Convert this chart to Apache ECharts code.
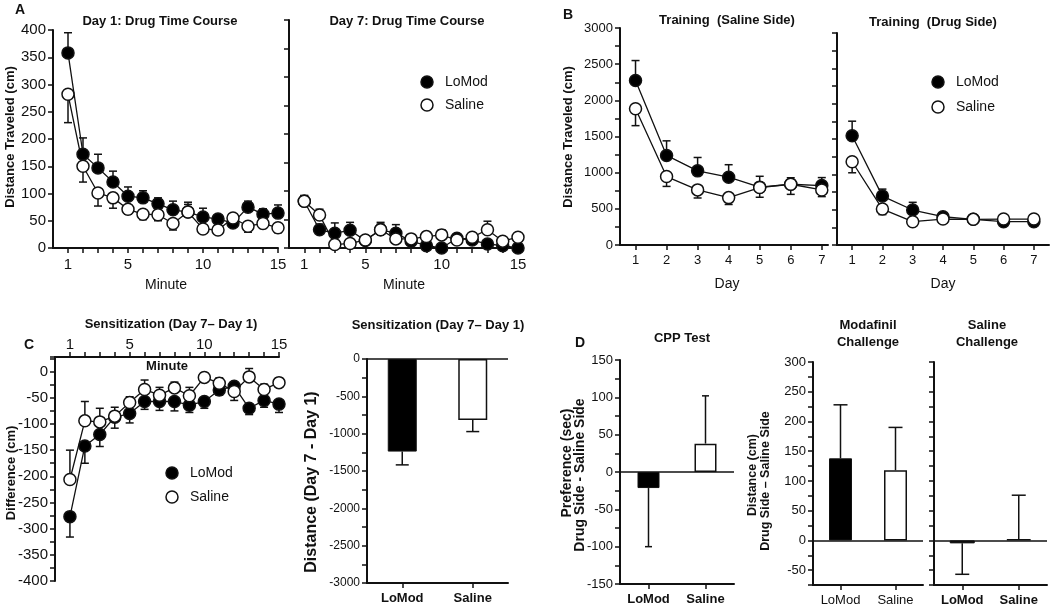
<!DOCTYPE html>
<html>
<head>
<meta charset="utf-8">
<script src="https://cdn.jsdelivr.net/npm/echarts@6/dist/echarts.min.js"></script>
<style>
  html, body { margin: 0; background: #fff; }
  #chart { width: 1050px; height: 608px; }
</style>
</head>
<body>
<div id="chart"></div>
<script>
// ---- data ----
const minutes = [1, 2, 3, 4, 5, 6, 7, 8, 9, 10, 11, 12, 13, 14, 15];
const minuteLabels = [1, 5, 10, 15];
const days = [1, 2, 3, 4, 5, 6, 7];
const groups = ['LoMod', 'Saline'];

// A: drug time course (distance per minute); *Err = end of the error whisker
const day1LoMod = [358, 172, 147, 121, 95, 92, 81, 70, 66, 57, 53, 46, 75, 62, 64];
const day1LoModErr = [395, 202, 172, 141, 112, 105, 92, 86, 80, 73, 59, 52, 86, 72, 79];
const day1Saline = [282, 150, 101, 92, 71, 62, 61, 45, 66, 35, 33, 55, 40, 45, 37];
const day1SalineErr = [230, 121, 77, 73, 62, 52, 50, 33, 84, 28, 26, 46, 29, 36, 28];

const day7LoMod = [82, 32, 26, 31, 13, 32, 26, 12, 4, 0, 17, 14, 7, 4, 0];
const day7LoModErr = [92, 42, 44, 45, 20, 45, 41, 18, 10, 6, 22, 20, 14, 10, 6];
const day7Saline = [82, 58, 6, 8, 14, 32, 16, 16, 20, 23, 14, 19, 32, 12, 19];
const day7SalineErr = [92, 68, 12, 14, 20, 42, 24, 22, 28, 32, 20, 26, 47, 18, 24];

// B: training days
const salineSideLoMod = [2275, 1238, 1025, 937, 800, 840, 821];
const salineSideLoModErr = [2550, 1440, 1210, 1110, 950, 930, 932];
const salineSideSaline = [1883, 946, 762, 655, 794, 840, 761];
const salineSideSalineErr = [1650, 810, 650, 560, 660, 700, 669];

const drugSideLoMod = [1545, 692, 495, 400, 363, 330, 330];
const drugSideLoModErr = [1752, 791, 604, 430, 390, 360, 360];
const drugSideSaline = [1178, 509, 330, 367, 363, 367, 367];
const drugSideSalineErr = [1022, 430, 290, 330, 330, 330, 330];

// C: sensitization (day 7 - day 1)
const sensLoMod = [-277, -142, -120, -87, -80, -57, -57, -57, -64, -57, -35, -28, -70, -55, -62];
const sensLoModErr = [-316, -175, -143, -108, -98, -72, -74, -75, -78, -70, -45, -40, -82, -68, -78];
const sensSaline = [-206, -94, -96, -85, -59, -34, -45, -31, -46, -11, -22, -38, -10, -34, -21];
const sensSalineErr = [-150, -57, -70, -68, -48, -16, -30, -20, -30, -2, -12, -55, 6, -24, -12];

const sensTotal = [-1240, -816];
const sensTotalErr = [-1418, -972];

// D: CPP test and challenges
const cppPref = [-21.5, 38];
const cppPrefErr = [-100, 102];
const modafinilDist = [138, 118];
const modafinilDistErr = [228, 190];
const salineChDist = [-5, 2];
const salineChDistErr = [-57, 76];

// ---- helpers ----
const font = "'Liberation Sans', Arial, Helvetica, sans-serif";
const ink = '#111';
const axisLine = { color: ink, width: 2 };
const tickLine = { color: ink, width: 1.5 };

function xValAxis(grid, min, max, ticks, labels, size, pos) {
  return {
    type: 'value', gridIndex: grid, min: min, max: max, position: pos || 'bottom',
    axisLine: { show: true, onZero: false, lineStyle: axisLine },
    axisTick: { show: true, customValues: ticks, length: 5, lineStyle: tickLine },
    axisLabel: { customValues: labels, color: ink, fontSize: size, fontFamily: font, margin: pos === 'top' ? 5 : 9 },
    splitLine: { show: false }
  };
}

function yValAxis(grid, min, max, interval, step, size) {
  return {
    type: 'value', gridIndex: grid, min: min, max: max, interval: interval,
    axisLine: { show: true, onZero: false, lineStyle: axisLine },
    axisTick: { show: true, length: 5, lineStyle: tickLine },
    axisLabel: {
      show: !!step, color: ink, fontSize: size, fontFamily: font, margin: 7,
      formatter: v => (step && v % step === 0 ? String(v) : '')
    },
    splitLine: { show: false }
  };
}

function xCatAxis(grid, weight) {
  return {
    type: 'category', gridIndex: grid, data: groups, position: 'bottom',
    axisLine: { show: true, onZero: false, lineStyle: axisLine },
    axisTick: { show: true, alignWithLabel: true, length: 5, lineStyle: tickLine },
    axisLabel: { color: ink, fontSize: 13, fontWeight: weight, fontFamily: font, margin: 9 },
    splitLine: { show: false }
  };
}

function lineSeries(idx, name, xs, vals, filled) {
  return {
    type: 'line', name: name, xAxisIndex: idx, yAxisIndex: idx, z: 3,
    data: xs.map((x, i) => [x, vals[i]]),
    symbol: 'circle', symbolSize: 12,
    lineStyle: { color: ink, width: 1.3 },
    itemStyle: { color: filled ? '#000' : '#fff', borderColor: ink, borderWidth: 1.5 }
  };
}

function errSeries(idx, xs, vals, ends, cap) {
  return {
    type: 'custom', xAxisIndex: idx, yAxisIndex: idx, z: 2,
    data: xs.map((x, i) => [x, vals[i], ends[i]]),
    renderItem: (params, api) => {
      const p0 = api.coord([api.value(0), api.value(1)]);
      const p1 = api.coord([api.value(0), api.value(2)]);
      const st = { stroke: ink, lineWidth: 1.5 };
      return {
        type: 'group', children: [
          { type: 'line', shape: { x1: p0[0], y1: p0[1], x2: p1[0], y2: p1[1] }, style: st },
          { type: 'line', shape: { x1: p1[0] - cap, y1: p1[1], x2: p1[0] + cap, y2: p1[1] }, style: st }
        ]
      };
    }
  };
}

function barSeries(idx, vals, width) {
  return {
    type: 'bar', xAxisIndex: idx, yAxisIndex: idx, barWidth: width, z: 3,
    data: vals.map((v, i) => ({
      value: v,
      itemStyle: i === 0 ? { color: '#000', borderColor: ink, borderWidth: 1 }
                         : { color: '#fff', borderColor: ink, borderWidth: 1.5 }
    })),
    markLine: {
      silent: true, symbol: 'none', label: { show: false },
      lineStyle: { color: ink, width: 1.5, type: 'solid' },
      data: [{ yAxis: 0 }]
    }
  };
}

function txt(text, x, y, size, weight, rotate) {
  return {
    type: 'text', x: x, y: y, rotation: rotate ? Math.PI / 2 : 0, z: 10,
    style: {
      text: text, fill: ink, font: (weight || 'normal') + ' ' + size + 'px ' + font,
      align: 'center', verticalAlign: 'middle'
    }
  };
}

function legend(x, y, gap) {
  return [
    { type: 'circle', shape: { cx: x, cy: y, r: 6 }, style: { fill: '#000', stroke: ink, lineWidth: 1.5 } },
    { type: 'text', x: x + 18, y: y, style: { text: 'LoMod', fill: ink, font: '14px ' + font, verticalAlign: 'middle' } },
    { type: 'circle', shape: { cx: x, cy: y + gap, r: 6 }, style: { fill: '#fff', stroke: ink, lineWidth: 1.5 } },
    { type: 'text', x: x + 18, y: y + gap, style: { text: 'Saline', fill: ink, font: '14px ' + font, verticalAlign: 'middle' } }
  ];
}

const barIdx = [0, 1];

const option = {
  animation: false,
  backgroundColor: '#fff',
  grid: [
    { left: 53, top: 30, width: 225, height: 218 },   // A day 1
    { left: 289, top: 20, width: 229, height: 228 },  // A day 7
    { left: 620, top: 28, width: 208, height: 217 },  // B saline side
    { left: 837, top: 33, width: 212, height: 212 },  // B drug side
    { left: 55, top: 357, width: 224, height: 224 },  // C lines
    { left: 367, top: 359, width: 141, height: 224 }, // C bars
    { left: 620, top: 360, width: 114, height: 224 }, // D CPP
    { left: 813, top: 362, width: 110, height: 223 }, // D modafinil
    { left: 934, top: 362, width: 113, height: 223 }  // D saline challenge
  ],
  xAxis: [
    xValAxis(0, 0, 15, minutes, minuteLabels, 15),
    xValAxis(1, 0, 15, minutes, minuteLabels, 15),
    xValAxis(2, 0.5, 7.2, days, days, 13),
    xValAxis(3, 0.5, 7.5, days, days, 13),
    xValAxis(4, 0, 15, minutes, minuteLabels, 15, 'top'),
    xCatAxis(5, 'bold'),
    xCatAxis(6, 'bold'),
    xCatAxis(7, 'normal'),
    xCatAxis(8, 'bold')
  ],
  yAxis: [
    yValAxis(0, 0, 400, 50, 50, 15),
    yValAxis(1, 0, 400, 50, null, 15),
    yValAxis(2, 0, 3000, 250, 500, 13),
    yValAxis(3, 0, 3000, 250, null, 13),
    yValAxis(4, -400, 28, 25, 50, 15),
    yValAxis(5, -3000, 0, 250, 500, 12),
    yValAxis(6, -150, 150, 25, 50, 13),
    yValAxis(7, -75, 300, 25, 50, 13),
    yValAxis(8, -75, 300, 25, null, 13)
  ],
  series: [
    errSeries(0, minutes, day1LoMod, day1LoModErr, 4),
    errSeries(0, minutes, day1Saline, day1SalineErr, 4),
    lineSeries(0, 'LoMod', minutes, day1LoMod, true),
    lineSeries(0, 'Saline', minutes, day1Saline, false),

    errSeries(1, minutes, day7LoMod, day7LoModErr, 4),
    errSeries(1, minutes, day7Saline, day7SalineErr, 4),
    lineSeries(1, 'LoMod', minutes, day7LoMod, true),
    lineSeries(1, 'Saline', minutes, day7Saline, false),

    errSeries(2, days, salineSideLoMod, salineSideLoModErr, 4),
    errSeries(2, days, salineSideSaline, salineSideSalineErr, 4),
    lineSeries(2, 'LoMod', days, salineSideLoMod, true),
    lineSeries(2, 'Saline', days, salineSideSaline, false),

    errSeries(3, days, drugSideLoMod, drugSideLoModErr, 4),
    errSeries(3, days, drugSideSaline, drugSideSalineErr, 4),
    lineSeries(3, 'LoMod', days, drugSideLoMod, true),
    lineSeries(3, 'Saline', days, drugSideSaline, false),

    errSeries(4, minutes, sensLoMod, sensLoModErr, 4),
    errSeries(4, minutes, sensSaline, sensSalineErr, 4),
    lineSeries(4, 'LoMod', minutes, sensLoMod, true),
    lineSeries(4, 'Saline', minutes, sensSaline, false),

    barSeries(5, sensTotal, 29),
    errSeries(5, barIdx, sensTotal, sensTotalErr, 6.5),
    barSeries(6, cppPref, 22),
    errSeries(6, barIdx, cppPref, cppPrefErr, 3.5),
    barSeries(7, modafinilDist, 23),
    errSeries(7, barIdx, modafinilDist, modafinilDistErr, 7),
    barSeries(8, salineChDist, 25),
    errSeries(8, barIdx, salineChDist, salineChDistErr, 7)
  ],
  graphic: [
    txt('A', 20, 10, 14, 'bold'),
    txt('B', 568, 15, 14, 'bold'),
    txt('C', 29, 345, 14, 'bold'),
    txt('D', 580, 343, 14, 'bold'),

    txt('Day 1: Drug Time Course', 160, 21, 13, 'bold'),
    txt('Day 7: Drug Time Course', 407, 21, 13, 'bold'),
    txt('Training  (Saline Side)', 727, 20, 13, 'bold'),
    txt('Training  (Drug Side)', 933, 22, 13, 'bold'),
    txt('Sensitization (Day 7\u2013 Day 1)', 171, 324, 13, 'bold'),
    txt('Sensitization (Day 7\u2013 Day 1)', 438, 325, 13, 'bold'),
    txt('CPP Test', 682, 338, 13, 'bold'),
    txt('Modafinil', 868, 325, 13, 'bold'),
    txt('Challenge', 868, 342, 13, 'bold'),
    txt('Saline', 987, 325, 13, 'bold'),
    txt('Challenge', 987, 342, 13, 'bold'),

    txt('Distance Traveled (cm)', 10, 137, 13, 'bold', true),
    txt('Distance Traveled (cm)', 568, 137, 13, 'bold', true),
    txt('Difference (cm)', 11, 473, 13, 'bold', true),
    txt('Distance (Day 7 - Day 1)', 312, 482, 16, 'bold', true),
    txt('Preference (sec)', 567, 463, 14, 'bold', true),
    txt('Drug Side - Saline Side', 580, 475, 14, 'bold', true),
    txt('Distance (cm)', 753, 475, 12.5, 'bold', true),
    txt('Drug Side \u2013 Saline Side', 766, 481, 12.5, 'bold', true),

    txt('Minute', 166, 285, 14),
    txt('Minute', 404, 285, 14),
    txt('Day', 727, 284, 14),
    txt('Day', 943, 284, 14),
    txt('Minute', 167, 366, 13, 'bold')
  ]
    .concat(legend(427, 82, 23))
    .concat(legend(938, 82, 25))
    .concat(legend(172, 473, 24))
};

const chart = echarts.init(document.getElementById('chart'), null, { renderer: 'canvas' });
chart.setOption(option);
</script>
</body>
</html>
